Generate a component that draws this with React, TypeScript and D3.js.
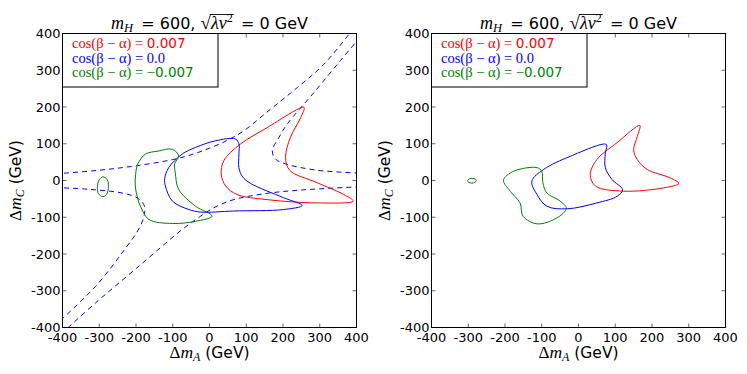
import React, { useLayoutEffect, useRef, useState } from 'react';
import * as d3 from 'd3';

// axis ticks, both axes
const tickValues = [-400, -300, -200, -100, 0, 100, 200, 300, 400];

// contour outlines, [dmA, dmC] in GeV
const leftRed = [[257, 199], [157, 144], [84, 99], [39, 54], [32, 17], [44, -15], [75, -38], [157, -52], [293, -61], [391, -56], [365, -38], [293, -6], [218, 28], [207, 63], [220, 117], [248, 171]];
const leftBlue = [[70, 113], [16, 108], [-38, 90], [-74, 72], [-111, 35], [-122, 5], [-120, -15], [-101, -56], [-56, -79], [-24, -86], [66, -83], [202, -79], [252, -68], [202, -47], [112, -8], [90, 10], [80, 35], [80, 72], [80, 100]];
const leftGreen = [[-101, 85], [-140, 80], [-174, 72], [-195, 45], [-201, 17], [-202, -15], [-195, -50], [-188, -70], [-165, -106], [-101, -117], [-38, -111], [7, -97], [-38, -70], [-84, -24], [-93, 21], [-95, 45], [-84, 67]];
const leftGreenSmall = [[-290, 10], [-278, 2], [-275, -17], [-280, -38], [-290, -44], [-302, -36], [-305, -17], [-300, 2]];

const rightRed = [[167, 150], [105, 103], [50, 57], [32, 16], [46, -15], [123, -29], [232, -20], [273, -8], [250, 7], [187, 30], [160, 57], [150, 84], [160, 120]];
const rightBlue = [[76, 98], [-22, 66], [-95, 30], [-127, -2], [-113, -38], [-86, -70], [-31, -77], [50, -61], [105, -43], [120, -25], [91, 3], [73, 35], [73, 75]];
const rightGreen = [[-113, 35], [-177, 25], [-204, 1], [-186, -29], [-159, -61], [-151, -97], [-113, -118], [-59, -102], [-33, -76], [-50, -56], [-86, -34], [-97, -6], [-100, 25]];
const rightGreenSmall = [[-290, 6], [-280, 3], [-278, -1], [-282, -5], [-290, -7], [-299, -5], [-302, -1], [-299, 3]];

// dashed blue branches (left panel only)
const dashA = [[-420, 18], [-300, 28], [-200, 40], [-100, 57], [-50, 70], [0, 88], [50, 110], [93, 135], [166, 194], [239, 253], [311, 316], [385, 405]];
const dashB = [[410, 390], [356, 326], [284, 239], [211, 153], [189, 117], [171, 81], [180, 58], [211, 44], [293, 28], [410, 20]];
const dashC = [[-420, -19], [-328, -24], [-238, -34], [-197, -47], [-179, -65], [-176, -83], [-188, -124], [-238, -197], [-310, -288], [-410, -385]];
const dashD = [[410, -17], [248, -26], [157, -35], [66, -52], [12, -74], [-24, -97], [-74, -133], [-192, -233], [-310, -333], [-390, -405]];

const legendRows = [
  { color: '#ff0000', math: 'cos(β − α) = ', sans: '0.007' },
  { color: '#0000ff', math: 'cos(β − α) = 0.0', sans: '' },
  { color: '#008000', math: 'cos(β − α) = −', sans: '0.007' },
];

const W = 747, H = 374;
const size = 294, top = 33.5;
const sansFont = '"DejaVu Sans", sans-serif';
const mathFont = '"Liberation Serif", serif';

function Panel({ id, left, contours, dashed }) {
  const x = d3.scaleLinear().domain([-400, 400]).range([left, left + size]);
  const y = d3.scaleLinear().domain([-400, 400]).range([top + size, top]);
  const closed = d3.line().x(d => x(d[0])).y(d => y(d[1])).curve(d3.curveCatmullRomClosed.alpha(0.5));
  const open = d3.line().x(d => x(d[0])).y(d => y(d[1])).curve(d3.curveCatmullRom.alpha(0.5));
  const cx = left + size / 2;

  // overline of the square root is measured from the rendered text
  const argRef = useRef(null);
  const supRef = useRef(null);
  const [bar, setBar] = useState(null);
  useLayoutEffect(() => {
    if (!argRef.current || !supRef.current) return;
    const a = argRef.current.getStartPositionOfChar(0).x;
    const b = supRef.current.getEndPositionOfChar(0).x;
    setBar([a - 1, b + 1]);
  }, []);

  return (
    <g>
      <defs>
        <clipPath id={'clip' + id}>
          <rect x={left} y={top} width={size} height={size} />
        </clipPath>
      </defs>
      <g clipPath={'url(#clip' + id + ')'}>
        {dashed.map((d, i) => (
          <path key={'d' + i} d={open(d)} fill="none" stroke="#0000ff" strokeWidth={1} strokeDasharray="5,4" />
        ))}
        {contours.map((c, i) => (
          <path key={'c' + i} d={closed(c.pts)} fill="none" stroke={c.color} strokeWidth={1} />
        ))}
      </g>
      {tickValues.map(t => (
        <g key={'t' + t} stroke="#666" strokeWidth={1}>
          <line x1={x(t)} x2={x(t)} y1={top + size} y2={top + size - 4} />
          <line x1={x(t)} x2={x(t)} y1={top} y2={top + 4} />
          <line x1={left} x2={left + 4} y1={y(t)} y2={y(t)} />
          <line x1={left + size - 4} x2={left + size} y1={y(t)} y2={y(t)} />
        </g>
      ))}
      <rect x={left} y={top} width={size} height={size} fill="none" stroke="#000" strokeWidth={1} />
      {tickValues.map(t => (
        <text key={'xl' + t} x={x(t)} y={top + size + 14} textAnchor="middle" fontSize={13} fontFamily={sansFont}>{t}</text>
      ))}
      {tickValues.map(t => (
        <text key={'yl' + t} x={left - 2} y={y(t) + 4.5} textAnchor="end" fontSize={13} fontFamily={sansFont}>{t}</text>
      ))}
      {/* legend */}
      <rect x={left} y={top} width={155.5} height={53.5} fill="#fff" stroke="#000" strokeWidth={1} />
      {legendRows.map((r, i) => (
        <text key={'lg' + i} x={left + 9.5} y={top + 14.5 + i * 14.5} fill={r.color} fontSize={14.5}>
          <tspan fontFamily={mathFont}>{r.math}</tspan>
          <tspan fontFamily={sansFont} fontSize={13.5}>{r.sans}</tspan>
        </text>
      ))}
      {/* title */}
      <text x={cx} y={29} textAnchor="middle" fontSize={16} fontFamily={sansFont}>
        <tspan fontFamily={mathFont} fontStyle="italic" fontSize={18}>m</tspan>
        <tspan fontFamily={mathFont} fontStyle="italic" fontSize={12.5} dy={3}>H</tspan>
        <tspan dy={-3}>{' \u2009= 600, '}</tspan>
        <tspan fontFamily={mathFont} fontSize={19}>√</tspan>
        <tspan ref={argRef} fontFamily={mathFont} fontStyle="italic" fontSize={18}>{'λv'}</tspan>
        <tspan ref={supRef} fontFamily={mathFont} fontSize={12} dy={-7}>2</tspan>
        <tspan dy={7}>{' \u2009= 0 GeV'}</tspan>
      </text>
      {bar && <line x1={bar[0]} x2={bar[1]} y1={14.5} y2={14.5} stroke="#000" strokeWidth={0.9} />}
      {/* axis labels */}
      <text x={cx} y={358} textAnchor="middle" fontSize={15.5} fontFamily={sansFont}>
        <tspan fontFamily={mathFont} fontSize={17}>Δ</tspan>
        <tspan fontFamily={mathFont} fontStyle="italic" fontSize={17.5}>m</tspan>
        <tspan fontFamily={mathFont} fontStyle="italic" fontSize={12} dy={3}>A</tspan>
        <tspan dy={-3}>{' (GeV)'}</tspan>
      </text>
      <text transform={`translate(${left - 42},${top + size / 2}) rotate(-90)`} textAnchor="middle" fontSize={15.5} fontFamily={sansFont}>
        <tspan fontFamily={mathFont} fontSize={17}>Δ</tspan>
        <tspan fontFamily={mathFont} fontStyle="italic" fontSize={17.5}>m</tspan>
        <tspan fontFamily={mathFont} fontStyle="italic" fontSize={12} dy={3}>C</tspan>
        <tspan dy={-3}>{' (GeV)'}</tspan>
      </text>
    </g>
  );
}

export default function App() {
  const leftContours = [
    { pts: leftRed, color: '#ff0000' },
    { pts: leftBlue, color: '#0000ff' },
    { pts: leftGreen, color: '#008000' },
    { pts: leftGreenSmall, color: '#008000' },
  ];
  const rightContours = [
    { pts: rightRed, color: '#ff0000' },
    { pts: rightBlue, color: '#0000ff' },
    { pts: rightGreen, color: '#008000' },
    { pts: rightGreenSmall, color: '#008000' },
  ];
  return (
    <svg width={W} height={H} style={{ position: 'absolute', left: 0, top: 0, background: '#fff' }}>
      <Panel id="a" left={62.5} contours={leftContours} dashed={[dashA, dashB, dashC, dashD]} />
      <Panel id="b" left={431.5} contours={rightContours} dashed={[]} />
    </svg>
  );
}
